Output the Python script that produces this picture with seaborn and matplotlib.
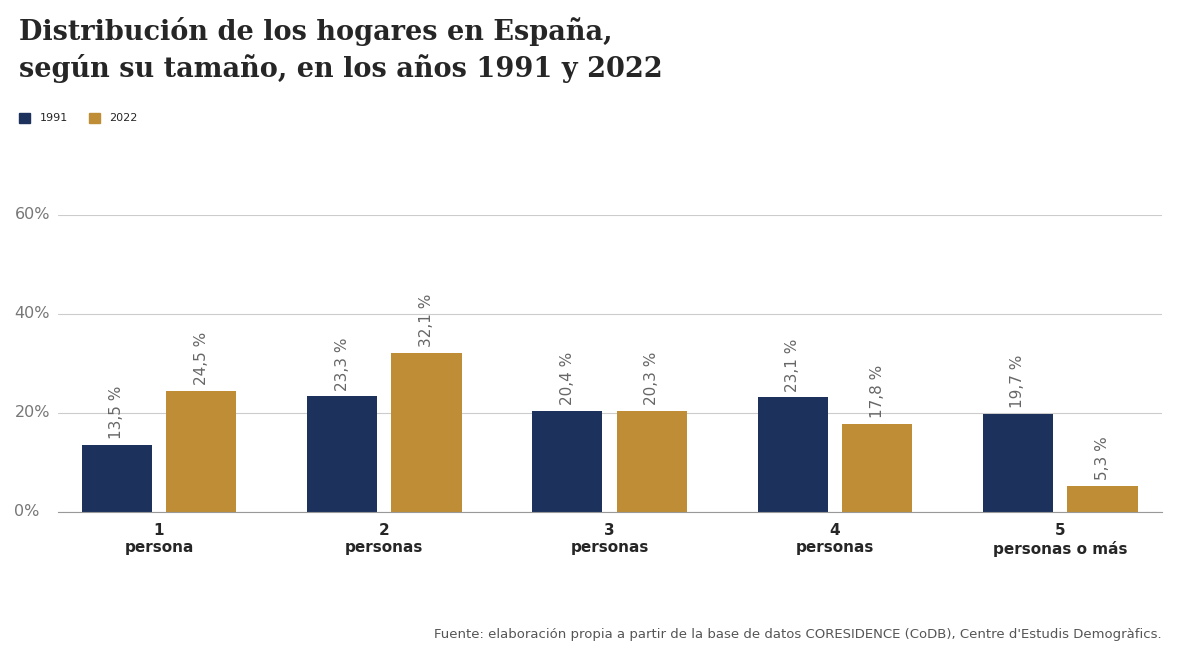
import matplotlib.pyplot as plt
import matplotlib.transforms as mtransforms
import seaborn as sns
import pandas as pd

categorias = ["1\npersona", "2\npersonas", "3\npersonas", "4\npersonas", "5\npersonas o más"]
anios = ["1991", "2022"]
valores_1991 = [13.5, 23.3, 20.4, 23.1, 19.7]
valores_2022 = [24.5, 32.1, 20.3, 17.8, 5.3]
ticks_y = [0, 20, 40, 60]
colores = ["#1c325c", "#bf8d36"]

df = pd.DataFrame({
    "cat": categorias * 2,
    "anio": ["1991"] * 5 + ["2022"] * 5,
    "valor": valores_1991 + valores_2022,
})

sns.set_style("white")
fig = plt.figure(figsize=(12, 6.63), dpi=100)
ax = fig.add_axes([0.048, 0.228, 0.92, 0.448])

sns.barplot(data=df, x="cat", y="valor", hue="anio", palette=colores,
            width=0.75, gap=0.17, ax=ax, legend=False, saturation=1, linewidth=0)

for cont in ax.containers:
    for bar in cont:
        v = bar.get_height()
        ax.text(bar.get_x() + bar.get_width() / 2, v + 1.2,
                f"{v:.1f} %".replace(".", ","), rotation=90, ha="center",
                va="bottom", fontsize=11, color="#666666")

ax.set_ylim(0, 60)
ax.set_xlim(-0.45, 4.45)
ax.set_yticks(ticks_y)
ax.set_yticklabels([])
ax.tick_params(axis="y", length=0)
trans = mtransforms.blended_transform_factory(fig.transFigure, ax.transData)
for t in ticks_y:
    fig.text(0.012, t, f"{t}%", transform=trans, ha="left", va="center",
             fontsize=11.5, color="#777777")
ax.tick_params(axis="x", length=0, pad=8)
for lbl in ax.get_xticklabels():
    lbl.set_fontweight("bold")
    lbl.set_fontsize(11)
ax.set_xlabel("")
ax.set_ylabel("")
ax.grid(axis="y", color="#cccccc", linewidth=0.8)
ax.set_axisbelow(True)
for s in ["top", "right", "left"]:
    ax.spines[s].set_visible(False)
ax.spines["bottom"].set_color("#999999")

fig.text(0.016, 0.975, "Distribución de los hogares en España,\nsegún su tamaño, en los años 1991 y 2022",
         fontsize=19.5, fontweight="bold", family="DejaVu Serif", va="top", linespacing=1.35)

fig.patches.append(plt.Rectangle((0.016, 0.814), 0.009, 0.016, color=colores[0], transform=fig.transFigure))
fig.text(0.033, 0.822, "1991", fontsize=8, va="center")
fig.patches.append(plt.Rectangle((0.074, 0.814), 0.009, 0.016, color=colores[1], transform=fig.transFigure))
fig.text(0.091, 0.822, "2022", fontsize=8, va="center")

fig.text(0.968, 0.037, "Fuente: elaboración propia a partir de la base de datos CORESIDENCE (CoDB), Centre d'Estudis Demogràfics.",
         ha="right", fontsize=9.5, color="#555555")

fig.savefig("out.png", dpi=100)
